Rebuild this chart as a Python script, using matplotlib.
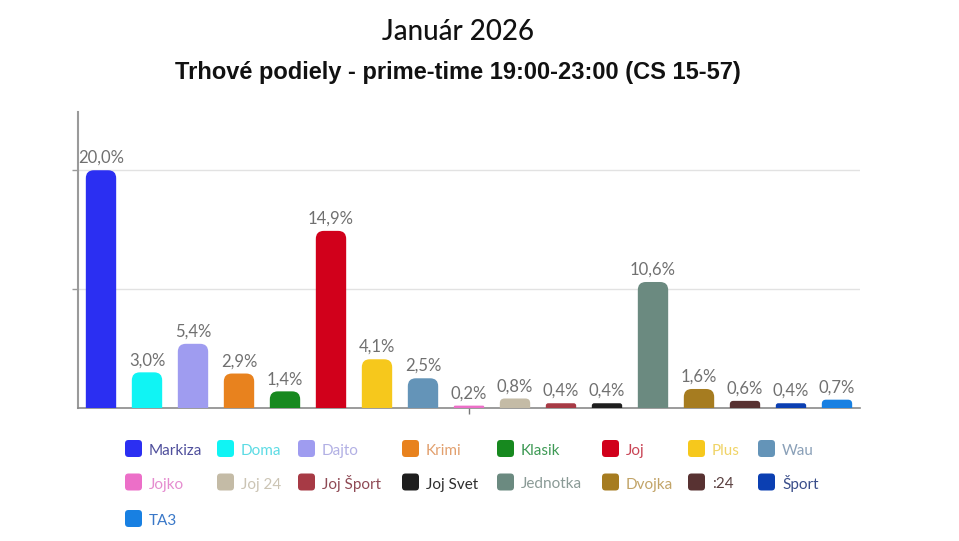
import numpy as np
import matplotlib
matplotlib.use("Agg")
import matplotlib.pyplot as plt
from matplotlib.patches import FancyBboxPatch

# ---- data ----
channels = ["Markiza", "Doma", "Dajto", "Krimi", "Klasik", "Joj", "Plus", "Wau",
            "Jojko", "Joj 24", "Joj Šport", "Joj Svet", "Jednotka", "Dvojka", ":24",
            "Šport", "TA3"]
shares = [20.0, 3.0, 5.4, 2.9, 1.4, 14.9, 4.1, 2.5,
          0.2, 0.8, 0.4, 0.4, 10.6, 1.6, 0.6, 0.4, 0.7]
bar_colors = ["#2b2ff2", "#10f4f4", "#9f9cf0", "#e8821e", "#17891f", "#d1001b",
              "#f6c81c", "#6494b8", "#ec6fc8", "#c4bba6", "#a73a45", "#1e1e1e",
              "#6b8a80", "#a67c20", "#583232", "#0b3fb2", "#1880e2"]
text_colors = ["#4f4f9c", "#5cdbe4", "#b2b0e4", "#e2a06e", "#3e9a55", "#c94455",
               "#f0d468", "#8aa0b8", "#e58ccf", "#cbc4b4", "#8f4a55", "#2e2e2e",
               "#8a9a96", "#c2a468", "#5a4040", "#3a4e8a", "#3a78c8"]
title = "Január 2026"
subtitle = "Trhové podiely - prime-time 19:00-23:00 (CS 15-57)"

W, H = 959, 541
fig = plt.figure(figsize=(W / 100, H / 100), dpi=100)
ax_l, ax_r, ax_b, ax_t = 78, 860, 408, 112
ax = fig.add_axes([ax_l / W, 1 - ax_b / H, (ax_r - ax_l) / W, (ax_b - ax_t) / H])

x = np.arange(len(channels))
ymax = 24.9
ax.set_xlim(-0.5, len(channels) - 0.5)
ax.set_ylim(0, ymax)

bars = ax.bar(x, shares, width=0.66, color=bar_colors)

# convert to rounded-top bars
px_per_x = (ax_r - ax_l) / len(channels)
px_per_y = (ax_b - ax_t) / ymax
for rect, c in zip(bars, bar_colors):
    x0, w, h = rect.get_x(), rect.get_width(), rect.get_height()
    rect.set_visible(False)
    h_px = h * px_per_y
    r_px = max(1.2, min(8.0, 0.5 * h_px))
    rx = r_px / px_per_x
    ry = r_px / px_per_y
    p = FancyBboxPatch((x0, -2 * ry), w, h + 2 * ry,
                       boxstyle=f"round,pad=0,rounding_size={rx}",
                       mutation_aspect=ry / rx, facecolor=c, edgecolor="none",
                       clip_on=True, zorder=3)
    ax.add_patch(p)

for xi, v in zip(x, shares):
    ax.annotate(f"{v:.1f}%".replace(".", ","), (xi, v), xytext=(0, 3),
                textcoords="offset points", ha="center", va="bottom",
                fontsize=12, family="Lato", color="#707070", zorder=4)

# axes styling
for s in ["top", "right"]:
    ax.spines[s].set_visible(False)
ax.spines["left"].set_color("#9a9a9a")
ax.spines["left"].set_linewidth(1.5)
ax.spines["bottom"].set_color("#8a8a8a")
ax.spines["bottom"].set_linewidth(1.2)
ax.set_yticks([10, 20])
ax.set_yticklabels([])
ax.tick_params(axis="y", length=4, color="#9a9a9a", width=1)
ax.set_xticks([8])
ax.set_xticklabels([])
ax.tick_params(axis="x", length=4, color="#777777", width=1)
ax.grid(axis="y", color="#e2e2e2", linewidth=1, zorder=0)
ax.set_axisbelow(True)

# titles
fig.text(458 / W, 1 - 40 / H, title, ha="center", va="baseline",
         fontsize=20, family="Lato", weight="medium", color="#111111")
fig.text(458 / W, 1 - 79 / H, subtitle, ha="center", va="baseline",
         fontsize=17, family="Liberation Sans", weight="bold", color="#111111")

# legend (row-major, 8 columns)
col_x = [125, 217, 298, 402, 497, 602, 688, 758]
row_y = [448.5, 482.0, 518.5]
sw = 17
for i, name in enumerate(channels):
    r, c = divmod(i, len(col_x))
    cx, cy = col_x[c], row_y[r]
    sq = FancyBboxPatch((cx / W, 1 - (cy + sw / 2) / H), sw / W, sw / H,
                        boxstyle=f"round,pad=0,rounding_size={3.5 / W}",
                        mutation_aspect=W / H, transform=fig.transFigure,
                        facecolor=bar_colors[i], edgecolor="none")
    fig.add_artist(sq)
    fig.text((cx + 24) / W, 1 - (cy + 6.5) / H, name, ha="left", va="baseline",
             fontsize=11, family="Lato", color=text_colors[i])

fig.savefig("out.png", dpi=100, facecolor="white")
